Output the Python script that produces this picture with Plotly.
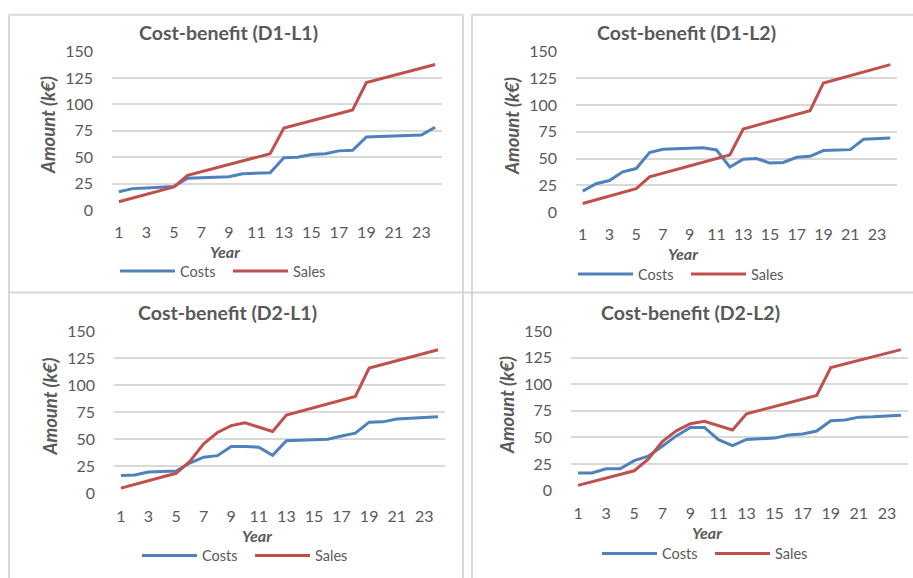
import plotly.graph_objects as go

W, H = 913, 578

years = [1, 2, 3, 4, 5, 6, 7, 8, 9, 10, 11, 12, 13, 14, 15, 16, 17, 18, 19, 20, 21, 22, 23, 24]
year_ticks = [1, 3, 5, 7, 9, 11, 13, 15, 17, 19, 21, 23]
y_ticks = [0, 25, 50, 75, 100, 125, 150]

titles = ["Cost-benefit (D1-L1)", "Cost-benefit (D1-L2)", "Cost-benefit (D2-L1)", "Cost-benefit (D2-L2)"]

costs_d1_l1 = [17.4, 20.4, 21.0, 21.5, 22.3, 30.2, 30.5, 30.8, 31.7, 34.5, 35.0, 35.4,
               49.7, 50.0, 52.7, 53.3, 56.1, 56.7, 69.2, 69.5, 70.1, 70.7, 71.0, 78.4]
sales_d1_l1 = [8.0, 11.5, 15.0, 18.5, 22.0, 33.0, 36.4, 39.8, 43.2, 46.6, 50.0, 53.4,
               77.7, 81.1, 84.5, 88.0, 91.4, 94.8, 120.7, 124.1, 127.5, 131.0, 134.4, 137.8]

costs_d1_l2 = [19.6, 26.5, 29.5, 37.7, 40.7, 55.7, 58.7, 59.3, 59.6, 60.2, 58.1, 42.2,
               49.4, 50.0, 45.8, 46.4, 51.2, 52.1, 57.5, 57.8, 58.4, 68.0, 68.7, 69.3]
sales_d1_l2 = [8.0, 11.5, 15.0, 18.5, 22.0, 33.0, 36.4, 39.8, 43.2, 46.6, 50.0, 53.4,
               77.7, 81.1, 84.5, 88.0, 91.4, 94.8, 120.7, 124.1, 127.5, 131.0, 134.4, 137.8]

costs_d2_l1 = [16.6, 17.2, 19.9, 20.5, 20.8, 28.2, 33.6, 35.0, 43.4, 43.4, 42.8, 35.3,
               48.7, 49.3, 49.9, 50.2, 53.2, 55.8, 65.9, 66.2, 68.9, 69.5, 70.1, 71.0]
sales_d2_l1 = [5.0, 8.4, 11.9, 15.3, 18.7, 29.7, 46.0, 56.4, 62.7, 65.3, 61.5, 57.3,
               72.5, 76.0, 79.6, 83.2, 86.4, 89.7, 115.8, 119.1, 122.4, 125.9, 129.2, 132.8]

costs_d2_l2 = [16.7, 16.7, 20.6, 20.6, 28.2, 32.4, 41.8, 51.5, 59.4, 59.4, 47.9, 42.4,
               48.2, 48.8, 49.4, 52.4, 53.3, 56.1, 65.8, 66.4, 69.1, 69.4, 70.0, 70.9]
sales_d2_l2 = [5.0, 8.4, 11.9, 15.3, 18.7, 29.5, 46.2, 56.2, 62.9, 65.2, 61.2, 57.0,
               72.3, 75.8, 79.4, 83.0, 86.3, 89.5, 115.8, 119.1, 122.4, 125.9, 129.2, 132.6]

series = [(costs_d1_l1, sales_d1_l1), (costs_d1_l2, sales_d1_l2),
          (costs_d2_l1, sales_d2_l1), (costs_d2_l2, sales_d2_l2)]

BLUE = "#4F81BD"
RED = "#C0504D"
TXT = "#595959"
GRID = "#D9D9D9"
FONT = "Lato"


def px(x):
    return x / W


def py(y):
    return 1 - y / H


# panel geometry in pixels: plot left, right, top(150), bottom(0)
plots = [(112, 442, 43, 207), (576, 897, 43, 209), (114, 445, 332, 500), (571, 908, 332, 497)]
title_pos = [(228, 23), (686, 23), (227, 313), (690, 313)]
year_pos = [(225, 250), (683, 252), (257, 543), (707, 540)]
legend_pos = [(115, 270), (573, 273), (137, 564), (597, 562)]

fig = go.Figure()
layout = dict(width=W, height=H, margin=dict(l=0, r=0, t=0, b=0),
              paper_bgcolor="white", plot_bgcolor="white",
              font=dict(family=FONT, color=TXT, size=15), showlegend=True)
annotations = []
shapes = []

for i in range(4):
    sfx = "" if i == 0 else str(i + 1)
    costs, sales = series[i]
    lg = "legend" + sfx
    fig.add_trace(go.Scatter(x=years, y=costs, mode="lines", name="Costs",
                             line=dict(color=BLUE, width=3), xaxis="x" + sfx, yaxis="y" + sfx,
                             legend=lg))
    fig.add_trace(go.Scatter(x=years, y=sales, mode="lines", name="Sales",
                             line=dict(color=RED, width=3), xaxis="x" + sfx, yaxis="y" + sfx,
                             legend=lg))
    l, r, t, b = plots[i]
    layout["xaxis" + sfx] = dict(domain=[px(l), px(r)], anchor="y" + sfx, range=[0.5, 24.5],
                                 tickvals=year_ticks, ticktext=[str(v) for v in year_ticks],
                                 showgrid=False, zeroline=False, showline=False,
                                 ticklabelstandoff=11,
                                 tickfont=dict(family=FONT, size=16, color=TXT))
    layout["yaxis" + sfx] = dict(domain=[py(b), py(t)], anchor="x" + sfx, range=[0, 150],
                                 tickvals=y_ticks, showgrid=True, gridcolor=GRID, gridwidth=1.5,
                                 zeroline=False, showline=False, ticklabelstandoff=18,
                                 tickfont=dict(family=FONT, size=16, color=TXT))
    lx, ly = legend_pos[i]
    layout[lg] = dict(orientation="h", x=px(lx), y=py(ly), xanchor="left", yanchor="middle",
                      itemwidth=55, entrywidth=43, entrywidthmode="pixels",
                      font=dict(family=FONT, size=14.5, color=TXT),
                      bgcolor="rgba(0,0,0,0)", tracegroupgap=0, itemclick=False)
    tx, ty = title_pos[i]
    annotations.append(dict(text="<b>" + titles[i] + "</b>", x=px(tx), y=py(ty), xref="paper",
                            yref="paper", showarrow=False, xanchor="center", yanchor="middle",
                            font=dict(family=FONT, size=19.5, color=TXT)))
    annotations.append(dict(text="<b><i>Amount (k€)</i></b>", x=px(l - 64), y=py((t + b) / 2 - 6),
                            xref="paper", yref="paper", showarrow=False, textangle=-90,
                            xanchor="center", yanchor="middle",
                            font=dict(family=FONT, size=18.5, color=TXT)))
    yx, yy = year_pos[i]
    annotations.append(dict(text="<b><i>Year</i></b>", x=px(yx), y=py(yy), xref="paper",
                            yref="paper", showarrow=False, xanchor="center", yanchor="middle",
                            font=dict(family=FONT, size=16, color=TXT)))

# panel borders
bc = dict(color="#D9D9D9", width=2)
for (x0, y0, x1, y1) in [(9, 5, 463, 5), (9, 5, 9, 600), (463, 5, 463, 600), (9, 292, 930, 292),
                         (472, 5, 930, 5), (472, 5, 472, 600)]:
    shapes.append(dict(type="line", xref="paper", yref="paper", x0=px(x0), y0=py(y0),
                       x1=px(x1), y1=py(y1), line=bc, layer="below"))

layout["annotations"] = annotations
layout["shapes"] = shapes
fig.update_layout(**layout)

# pin the chart to the top-left corner of the page (no body margin / page overflow)
pin = ("document.body.style.margin='0px';"
       "var d=document.getElementById('{plot_id}');"
       "d.style.position='fixed';d.style.left='0px';d.style.top='0px';")
fig.write_html("out.html", post_script=pin, config={"displayModeBar": False})
